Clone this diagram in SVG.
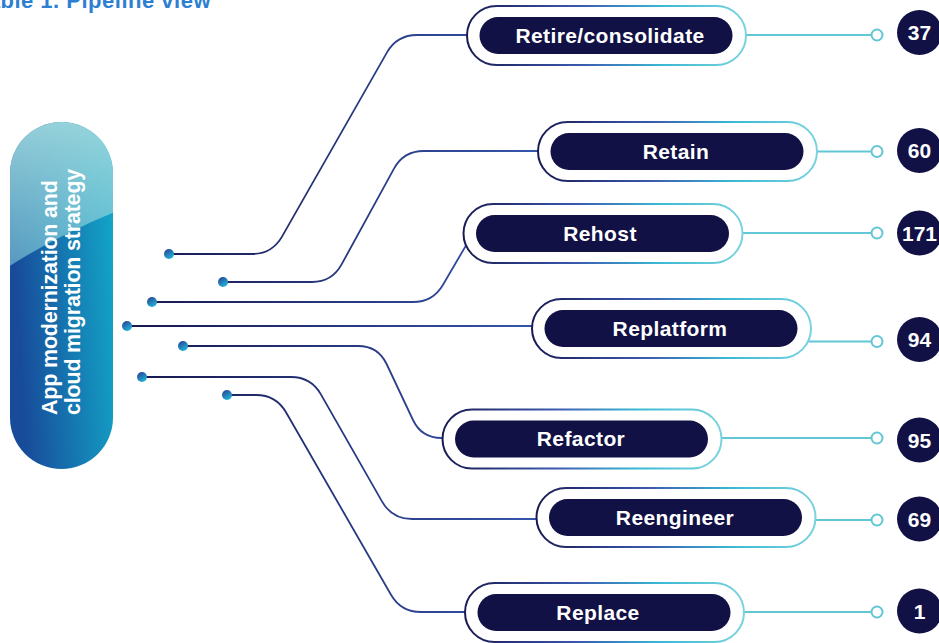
<svg xmlns="http://www.w3.org/2000/svg" width="939" height="643" viewBox="0 0 939 643">
  <defs>
    <linearGradient id="wire" gradientUnits="userSpaceOnUse" x1="150" y1="0" x2="540" y2="0">
      <stop offset="0" stop-color="#191a52"/>
      <stop offset="1" stop-color="#3656ac"/>
    </linearGradient>
    <linearGradient id="dot" x1="0" y1="0" x2="0.6" y2="1">
      <stop offset="0" stop-color="#2a3a90"/>
      <stop offset="1" stop-color="#1fb3d6"/>
    </linearGradient>
    <linearGradient id="rim" x1="0" y1="0" x2="1" y2="0">
      <stop offset="0" stop-color="#1a1a52"/>
      <stop offset="0.4" stop-color="#3a58ae"/>
      <stop offset="0.7" stop-color="#3bb9d4"/>
      <stop offset="1" stop-color="#7ad3de"/>
    </linearGradient>
    <linearGradient id="capsule" x1="0" y1="0.2" x2="1" y2="0">
      <stop offset="0" stop-color="#184b9a"/>
      <stop offset="1" stop-color="#12aaca"/>
    </linearGradient>
    <linearGradient id="sheen" x1="0" y1="0" x2="0" y2="1">
      <stop offset="0" stop-color="#a3dade" stop-opacity="0.95"/>
      <stop offset="1" stop-color="#7fcbd8" stop-opacity="0.6"/>
    </linearGradient>
    <clipPath id="capsuleClip">
      <rect x="10" y="122" width="103" height="347" rx="51.5"/>
    </clipPath>
  </defs>
  <style>
    .wire { fill: none; stroke: url(#wire); stroke-width: 1.8; }
    .tail { fill: none; stroke: #62c6d4; stroke-width: 2; }
    .knob { fill: #ffffff; stroke: #62c6d4; stroke-width: 2; }
    .dot { fill: url(#dot); }
    .outer { fill: #ffffff; stroke: url(#rim); stroke-width: 2; }
    .inner { fill: #121145; }
    .label { font-family: "Liberation Sans", Arial, sans-serif; font-weight: 700; font-size: 21px; fill: #ffffff; text-anchor: middle; letter-spacing: 0.4px; }
    .count { fill: #121145; }
    .num { font-family: "Liberation Sans", Arial, sans-serif; font-weight: 700; font-size: 21px; fill: #ffffff; text-anchor: middle; }
    .title { font-family: "Liberation Sans", Arial, sans-serif; font-weight: 700; font-size: 22px; fill: #2e7fd2; letter-spacing: 0.5px; text-anchor: end; }
    .side { font-family: "Liberation Sans", Arial, sans-serif; font-weight: 700; font-size: 21.5px; fill: #ffffff; letter-spacing: -0.2px; }
  </style>

  <rect width="939" height="643" fill="#ffffff"/>

  <text class="title" x="211" y="8">Table 1. Pipeline view</text>

  <!-- connectors -->
  <g id="connectors">
    <path class="wire" d="M169,254 H252 Q272,254 282,236.6 L387,52.4 Q397,35 417,35 H470"/>
    <path class="wire" d="M223,282 H312 Q332,282 341.6,264.4 L394,168.6 Q403.6,151 423.6,151 H541"/>
    <path class="wire" d="M152,302 H413 Q433,302 443,284.7 L470,238.6"/>
    <path class="wire" d="M127,326 H535"/>
    <path class="wire" d="M183,346 H358 Q378,346 386.6,364 L413,420 Q421.6,438 441.6,438 H446"/>
    <path class="wire" d="M142,377 H291 Q311,377 320.9,394.4 L382.1,501.6 Q392,519 412,519 H540"/>
    <path class="wire" d="M227,395 H256 Q276,395 286,412.3 L391,594.7 Q401,612 421,612 H468"/>

    <circle class="dot" cx="169" cy="254" r="5"/>
    <circle class="dot" cx="223" cy="282" r="5"/>
    <circle class="dot" cx="152" cy="302" r="5"/>
    <circle class="dot" cx="127" cy="326" r="5"/>
    <circle class="dot" cx="183" cy="346" r="5"/>
    <circle class="dot" cx="142" cy="377" r="5"/>
    <circle class="dot" cx="227" cy="395" r="5"/>

    <path class="tail" d="M735,35 H871.5"/>
    <path class="tail" d="M805,151.5 H871.5"/>
    <path class="tail" d="M732,233 H871.5"/>
    <path class="tail" d="M800,341.5 H871.5"/>
    <path class="tail" d="M710,438 H871.5"/>
    <path class="tail" d="M805,520 H871.5"/>
    <path class="tail" d="M733,612 H871.5"/>

    <circle class="knob" cx="877" cy="35" r="5.5"/>
    <circle class="knob" cx="877" cy="151.5" r="5.5"/>
    <circle class="knob" cx="877" cy="233" r="5.5"/>
    <circle class="knob" cx="877" cy="341.5" r="5.5"/>
    <circle class="knob" cx="877" cy="438" r="5.5"/>
    <circle class="knob" cx="877" cy="520" r="5.5"/>
    <circle class="knob" cx="877" cy="612" r="5.5"/>
  </g>

  <!-- central capsule -->
  <g id="node-strategy">
    <rect x="10" y="122" width="103" height="347" rx="51.5" fill="url(#capsule)"/>
    <path clip-path="url(#capsuleClip)" d="M0,110 H125 V208 Q62,232 0,272 Z" fill="url(#sheen)"/>
    <text class="side" transform="translate(57,415) rotate(-90)">App modernization and</text>
    <text class="side" transform="translate(80,415) rotate(-90)">cloud migration strategy</text>
  </g>

  <!-- strategy nodes -->
  <g id="node-retire">
    <rect class="outer" x="467" y="6" width="279" height="59" rx="29.5"/>
    <rect class="inner" x="479.5" y="17" width="253" height="37" rx="18.5"/>
    <text class="label" x="610" y="42.5">Retire/consolidate</text>
  </g>
  <g id="node-retain">
    <rect class="outer" x="538" y="122" width="279" height="59" rx="29.5"/>
    <rect class="inner" x="550.5" y="133" width="253" height="37" rx="18.5"/>
    <text class="label" x="676" y="158.5">Retain</text>
  </g>
  <g id="node-rehost">
    <rect class="outer" x="463.5" y="204" width="279" height="59" rx="29.5"/>
    <rect class="inner" x="476" y="215" width="253" height="37" rx="18.5"/>
    <text class="label" x="600" y="240.5">Rehost</text>
  </g>
  <g id="node-replatform">
    <rect class="outer" x="532" y="299" width="279" height="59" rx="29.5"/>
    <rect class="inner" x="544.5" y="310" width="253" height="37" rx="18.5"/>
    <text class="label" x="670" y="335.5">Replatform</text>
  </g>
  <g id="node-refactor">
    <rect class="outer" x="442.5" y="409.5" width="279" height="59" rx="29.5"/>
    <rect class="inner" x="455" y="420.5" width="253" height="37" rx="18.5"/>
    <text class="label" x="581" y="446">Refactor</text>
  </g>
  <g id="node-reengineer">
    <rect class="outer" x="536.5" y="488" width="279" height="59" rx="29.5"/>
    <rect class="inner" x="549" y="499" width="253" height="37" rx="18.5"/>
    <text class="label" x="675" y="524.5">Reengineer</text>
  </g>
  <g id="node-replace">
    <rect class="outer" x="465" y="583" width="279" height="59" rx="29.5"/>
    <rect class="inner" x="477.5" y="594" width="253" height="37" rx="18.5"/>
    <text class="label" x="598" y="619.5">Replace</text>
  </g>

  <!-- counts -->
  <g id="count-retire"><circle class="count" cx="919.5" cy="32.5" r="22.5"/><text class="num" x="919.5" y="40">37</text></g>
  <g id="count-retain"><circle class="count" cx="919.5" cy="150.5" r="22.5"/><text class="num" x="919.5" y="158">60</text></g>
  <g id="count-rehost"><circle class="count" cx="919.5" cy="233" r="22.5"/><text class="num" x="919.5" y="240.5">171</text></g>
  <g id="count-replatform"><circle class="count" cx="919.5" cy="339.5" r="22.5"/><text class="num" x="919.5" y="347">94</text></g>
  <g id="count-refactor"><circle class="count" cx="919.5" cy="440" r="22.5"/><text class="num" x="919.5" y="447.5">95</text></g>
  <g id="count-reengineer"><circle class="count" cx="919.5" cy="519" r="22.5"/><text class="num" x="919.5" y="526.5">69</text></g>
  <g id="count-replace"><circle class="count" cx="919.5" cy="611" r="22.5"/><text class="num" x="919.5" y="618.5">1</text></g>
</svg>
